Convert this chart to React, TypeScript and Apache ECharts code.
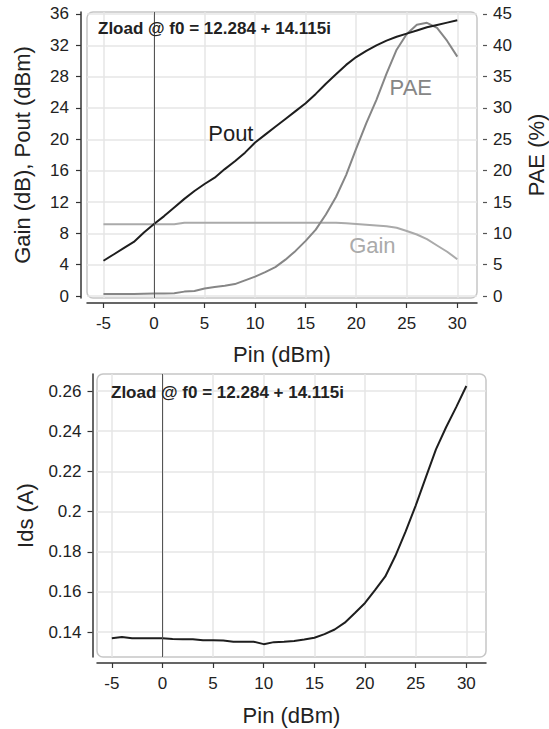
import React, { useEffect, useRef } from "react";
import * as echarts from "echarts";

const pin = [-5, -4, -3, -2, -1, 0, 1, 2, 3, 4, 5, 6, 7, 8, 9, 10, 11, 12, 13, 14, 15, 16, 17, 18, 19, 20, 21, 22, 23, 24, 25, 26, 27, 28, 29, 30];
const pout = [4.5, 5.3, 6.1, 6.9, 8.1, 9.2, 10.2, 11.3, 12.4, 13.4, 14.3, 15.1, 16.2, 17.2, 18.3, 19.6, 20.6, 21.6, 22.6, 23.6, 24.6, 25.8, 27.1, 28.3, 29.5, 30.5, 31.3, 32.0, 32.6, 33.1, 33.5, 33.9, 34.3, 34.6, 34.9, 35.2];
const gain = [9.15, 9.15, 9.15, 9.15, 9.15, 9.15, 9.15, 9.15, 9.35, 9.35, 9.35, 9.35, 9.35, 9.35, 9.35, 9.35, 9.35, 9.35, 9.35, 9.35, 9.35, 9.35, 9.35, 9.35, 9.28, 9.2, 9.1, 9.0, 8.9, 8.72, 8.3, 7.85, 7.25, 6.45, 5.65, 4.7];
const pae = [0.3, 0.3, 0.3, 0.3, 0.35, 0.4, 0.4, 0.45, 0.7, 0.8, 1.2, 1.45, 1.65, 1.9, 2.5, 3.1, 3.8, 4.6, 5.8, 7.2, 8.8, 10.6, 13.0, 15.8, 19.3, 23.5, 27.6, 31.3, 35.5, 39.3, 41.8, 43.3, 43.6, 42.8, 40.7, 38.2];
const ids = [0.1369, 0.1375, 0.1369, 0.1369, 0.1369, 0.1369, 0.1366, 0.1364, 0.1364, 0.1359, 0.1359, 0.1358, 0.1352, 0.1352, 0.1352, 0.134, 0.135, 0.1352, 0.1356, 0.1363, 0.1372, 0.139, 0.1413, 0.1447, 0.1495, 0.1545, 0.161, 0.1677, 0.178, 0.19, 0.203, 0.217, 0.231, 0.242, 0.252, 0.2625];

const xTicks = [-5, 0, 5, 10, 15, 20, 25, 30];
const leftTicks = [0, 4, 8, 12, 16, 20, 24, 28, 32, 36];
const rightTicks = [0, 5, 10, 15, 20, 25, 30, 35, 40, 45];
const idsTicks = [0.14, 0.16, 0.18, 0.2, 0.22, 0.24, 0.26];

const titleText = "Zload @ f0 = 12.284 + 14.115i";
const FONT = "'Liberation Sans', Arial, sans-serif";

const pairs = (ys: number[]) => pin.map((x, i) => [x, ys[i]]);

export default function App() {
  const ref = useRef<HTMLDivElement>(null);
  useEffect(() => {
    document.body.style.margin = "0";
    const chart = echarts.init(ref.current!, null, { renderer: "svg" });
    const gridLine = { show: true, lineStyle: { color: "#e6e6e6", width: 1.5 } };
    const tickLabel = { color: "#222", fontSize: 17, fontFamily: FONT };
    const nameStyle = { color: "#222", fontSize: 22, fontFamily: FONT };
    const axisLine = { show: true, onZero: false, lineStyle: { color: "#333", width: 1.5 } };
    const axisTick = (vals: number[], len = 5) => ({ show: true, length: len, customValues: vals, lineStyle: { color: "#333", width: 1.2 } });
    const zeroLine = {
      silent: true,
      symbol: ["none", "none"],
      label: { show: false },
      lineStyle: { color: "#555", width: 1, type: "solid" },
      data: [{ xAxis: 0 }],
    };
    const tag = (coord: number[], text: string, color: string) => ({
      coord,
      symbol: "circle",
      symbolSize: 1,
      itemStyle: { color: "transparent" },
      label: { show: true, position: "inside", formatter: text, color, fontSize: 22, fontFamily: FONT },
    });
    chart.setOption({
      animation: false,
      textStyle: { fontFamily: FONT },
      title: [
        { text: titleText, left: 93, top: 15, textStyle: { fontSize: 17, fontWeight: "bold", color: "#222", fontFamily: FONT } },
        { text: titleText, left: 106, top: 379, textStyle: { fontSize: 17, fontWeight: "bold", color: "#222", fontFamily: FONT } },
      ],
      graphic: [
        { type: "rect", shape: { x: 87, y: 12, width: 390, height: 286, r: 6 }, style: { fill: "none", stroke: "#c6c6c6", lineWidth: 1.5 }, silent: true },
        { type: "rect", shape: { x: 97, y: 374, width: 389, height: 283, r: 6 }, style: { fill: "none", stroke: "#c6c6c6", lineWidth: 1.5 }, silent: true },
      ],
      grid: [
        { left: 87, top: 12, width: 390, height: 286, outerBoundsMode: "none", containLabel: false },
        { left: 97, top: 374, width: 389, height: 283, outerBoundsMode: "none", containLabel: false },
      ],
      xAxis: [
        {
          type: "value", gridIndex: 0, min: -6.63, max: 31.95, offset: 5,
          axisLine, axisTick: axisTick(xTicks),
          axisLabel: { ...tickLabel, margin: 12, customValues: xTicks },
          splitLine: gridLine,
          name: "Pin (dBm)", nameLocation: "middle", nameGap: 40, nameTextStyle: nameStyle,
        },
        {
          type: "value", gridIndex: 1, min: -6.46, max: 31.94, offset: 6,
          axisLine, axisTick: axisTick(xTicks),
          axisLabel: { ...tickLabel, margin: 12, customValues: xTicks },
          splitLine: gridLine,
          name: "Pin (dBm)", nameLocation: "middle", nameGap: 41, nameTextStyle: nameStyle,
        },
      ],
      yAxis: [
        {
          type: "value", gridIndex: 0, min: -0.255, max: 36.255, offset: 6, position: "left",
          axisLine, axisTick: axisTick(leftTicks),
          axisLabel: { ...tickLabel, margin: 12, customValues: leftTicks },
          splitLine: gridLine,
          name: "Gain (dB), Pout (dBm)", nameLocation: "middle", nameGap: 48, nameTextStyle: nameStyle,
        },
        {
          type: "value", gridIndex: 0, min: -0.319, max: 45.319, offset: 6, position: "right",
          axisLine: { show: false, onZero: false }, axisTick: { ...axisTick(rightTicks, 4), lineStyle: { color: "#555", width: 1.2 } },
          axisLabel: { ...tickLabel, margin: 10, customValues: rightTicks },
          splitLine: { show: false },
          name: "PAE (%)", nameLocation: "middle", nameGap: 42, nameTextStyle: nameStyle,
        },
        {
          type: "value", gridIndex: 1, min: 0.1276, max: 0.2685, offset: 4.5, position: "left",
          axisLine, axisTick: axisTick(idsTicks),
          axisLabel: { ...tickLabel, margin: 11, customValues: idsTicks },
          splitLine: gridLine,
          name: "Ids (A)", nameLocation: "middle", nameGap: 56, nameTextStyle: nameStyle,
        },
      ],
      series: [
        {
          name: "Gain", type: "line", xAxisIndex: 0, yAxisIndex: 0, data: pairs(gain),
          symbol: "none", lineStyle: { color: "#aaaaaa", width: 2 }, itemStyle: { color: "#aaaaaa" },
          markPoint: { silent: true, data: [tag([21.6, 6.5], "Gain", "#aaaaaa")] },
        },
        {
          name: "PAE", type: "line", xAxisIndex: 0, yAxisIndex: 1, data: pairs(pae),
          symbol: "none", lineStyle: { color: "#868686", width: 2 }, itemStyle: { color: "#868686" },
          markPoint: { silent: true, data: [tag([25.4, 33.3], "PAE", "#868686")] },
        },
        {
          name: "Pout", type: "line", xAxisIndex: 0, yAxisIndex: 0, data: pairs(pout),
          symbol: "none", lineStyle: { color: "#1e1e1e", width: 2 }, itemStyle: { color: "#1e1e1e" },
          markLine: zeroLine,
          markPoint: { silent: true, data: [tag([7.6, 20.8], "Pout", "#1e1e1e")] },
        },
        {
          name: "Ids", type: "line", xAxisIndex: 1, yAxisIndex: 2, data: pairs(ids),
          symbol: "none", lineStyle: { color: "#1e1e1e", width: 2 }, itemStyle: { color: "#1e1e1e" },
          markLine: zeroLine,
        },
      ],
    });
    return () => chart.dispose();
  }, []);
  return <div ref={ref} style={{ width: 549, height: 729 }} />;
}
